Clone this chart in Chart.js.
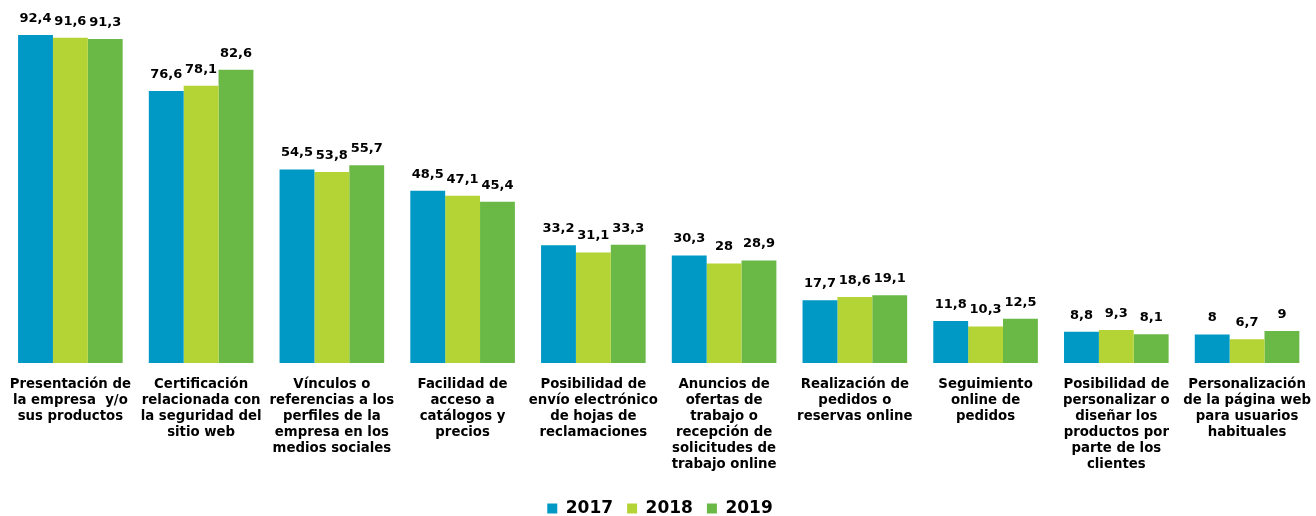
<!DOCTYPE html>
<html>
<head>
<meta charset="utf-8">
<script src="https://cdn.jsdelivr.net/npm/chart.js@4"></script>
<style>
  html, body { margin: 0; padding: 0; background: #fff; }
  #wrap { width: 1316px; height: 516px; }
</style>
</head>
<body>
<div id="wrap"><canvas id="grafico"></canvas></div>
<script>
const categorias = [
    ['Presentación de', 'la empresa  y/o', 'sus productos'],
    ['Certificación', 'relacionada con', 'la seguridad del', 'sitio web'],
    ['Vínculos o', 'referencias a los', 'perfiles de la', 'empresa en los', 'medios sociales'],
    ['Facilidad de', 'acceso a', 'catálogos y', 'precios'],
    ['Posibilidad de', 'envío electrónico', 'de hojas de', 'reclamaciones'],
    ['Anuncios de', 'ofertas de', 'trabajo o', 'recepción de', 'solicitudes de', 'trabajo online'],
    ['Realización de', 'pedidos o', 'reservas online'],
    ['Seguimiento', 'online de', 'pedidos'],
    ['Posibilidad de', 'personalizar o', 'diseñar los', 'productos por', 'parte de los', 'clientes'],
    ['Personalización', 'de la página web', 'para usuarios', 'habituales']
];
const valores2017 = [92.4, 76.6, 54.5, 48.5, 33.2, 30.3, 17.7, 11.8, 8.8, 8];
const valores2018 = [91.6, 78.1, 53.8, 47.1, 31.1, 28, 18.6, 10.3, 9.3, 6.7];
const valores2019 = [91.3, 82.6, 55.7, 45.4, 33.3, 28.9, 19.1, 12.5, 8.1, 9];

const fuente = "'DejaVu Sans', sans-serif";

// etiquetas de valor encima de cada barra, con coma decimal
const etiquetasValor = {
    id: 'etiquetasValor',
    afterDatasetsDraw(chart) {
        const ctx = chart.ctx;
        ctx.save();
        ctx.font = 'bold 13px ' + fuente;
        ctx.fillStyle = '#000';
        ctx.textAlign = 'center';
        ctx.textBaseline = 'bottom';
        chart.data.datasets.forEach((ds, i) => {
            chart.getDatasetMeta(i).data.forEach((bar, j) => {
                const texto = String(ds.data[j]).replace('.', ',');
                ctx.fillText(texto, bar.x, bar.y - 10);
            });
        });
        ctx.restore();
    }
};

const ctx = document.getElementById('grafico').getContext('2d');
new Chart(ctx, {
    type: 'bar',
    data: {
        labels: categorias,
        datasets: [
            { label: '2017', data: valores2017, backgroundColor: 'rgb(0, 153, 198)' },
            { label: '2018', data: valores2018, backgroundColor: 'rgb(180, 211, 53)' },
            { label: '2019', data: valores2019, backgroundColor: 'rgb(106, 184, 70)' }
        ]
    },
    options: {
        responsive: true,
        maintainAspectRatio: false,
        animation: false,
        categoryPercentage: 0.8,
        barPercentage: 1.0,
        layout: { padding: { top: 8, left: 5, right: 1, bottom: -11 } },
        scales: {
            x: {
                grid: { display: false },
                border: { display: false },
                ticks: {
                    color: '#000',
                    padding: 5,
                    maxRotation: 0,
                    autoSkip: false,
                    font: { family: fuente, size: 13.3, weight: 'bold', lineHeight: 1.21 }
                },
                afterFit(scale) { scale.height = 123; }
            },
            y: {
                display: false,
                min: 0,
                max: 100
            }
        },
        plugins: {
            legend: {
                position: 'bottom',
                labels: {
                    color: '#000',
                    boxWidth: 10,
                    boxHeight: 10,
                    padding: 14,
                    font: { family: fuente, size: 17, weight: 'bold' }
                }
            },
            tooltip: { enabled: false }
        }
    },
    plugins: [etiquetasValor]
});
</script>
</body>
</html>
